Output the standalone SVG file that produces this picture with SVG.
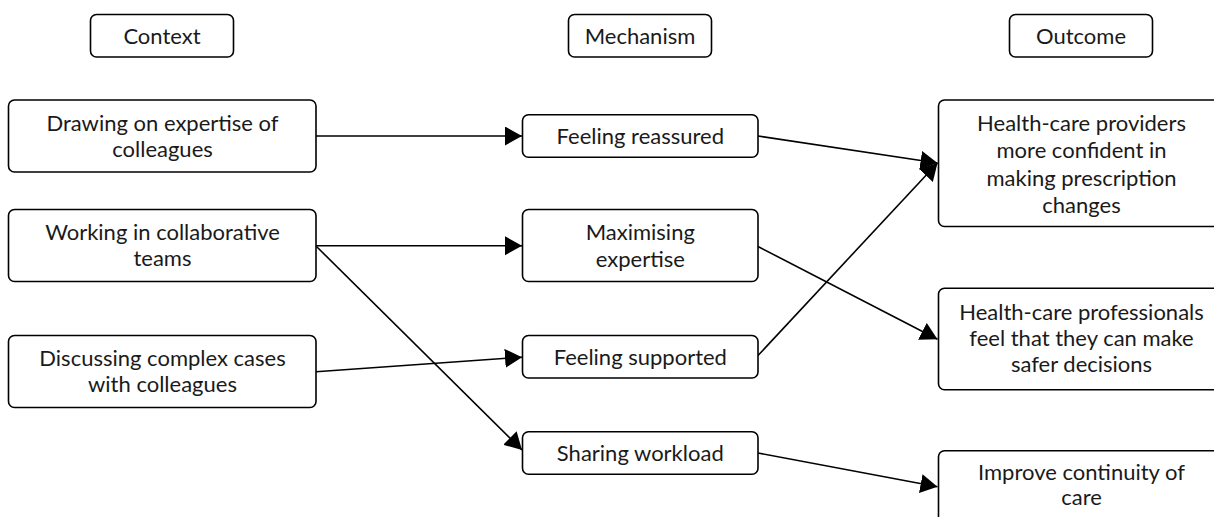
<svg xmlns="http://www.w3.org/2000/svg" width="1214" height="517" viewBox="0 0 1214 517">
  <style>
    .box { fill: #ffffff; stroke: #000000; stroke-width: 1.6; }
    .lbl { font-family: Lato, "Liberation Sans", sans-serif; font-size: 22px; fill: #1a1a1a; text-anchor: middle; }
    .edge { fill: none; stroke: #000000; stroke-width: 1.6; marker-end: url(#arrow); }
  </style>
  <defs>
    <marker id="arrow" markerUnits="userSpaceOnUse" markerWidth="18" markerHeight="20" refX="17" refY="9.5" orient="auto">
      <path d="M0,0 L17,9.5 L0,19 Z" fill="#000000"/>
    </marker>
  </defs>
  <rect width="1214" height="517" fill="#ffffff"/>

  <!-- column headers -->
  <g id="hdr-context">
    <rect class="box" x="90.5" y="14.5" width="143" height="42.5" rx="6"/>
    <text class="lbl" x="162" y="44">Context</text>
  </g>
  <g id="hdr-mechanism">
    <rect class="box" x="568.5" y="14.5" width="143" height="42.5" rx="6"/>
    <text class="lbl" x="640" y="44">Mechanism</text>
  </g>
  <g id="hdr-outcome">
    <rect class="box" x="1009.5" y="14.5" width="143" height="42.5" rx="6"/>
    <text class="lbl" x="1081" y="44">Outcome</text>
  </g>

  <!-- connectors -->
  <g id="connectors">
    <line class="edge" x1="316" y1="136" x2="522" y2="136"/>
    <line class="edge" x1="758" y1="136" x2="937.5" y2="163"/>
    <line class="edge" x1="316" y1="245.7" x2="522" y2="245.7"/>
    <line class="edge" x1="316" y1="246" x2="522" y2="450"/>
    <line class="edge" x1="316" y1="371.7" x2="522" y2="357.2"/>
    <line class="edge" x1="758" y1="246.5" x2="937.5" y2="339.2"/>
    <line class="edge" x1="758" y1="355.5" x2="937.5" y2="163"/>
    <line class="edge" x1="758" y1="453" x2="937.5" y2="486.7"/>
  </g>

  <!-- context nodes -->
  <g id="ctx-drawing">
    <rect class="box" x="8.5" y="100" width="307.5" height="72" rx="6"/>
    <text class="lbl" x="162.5" y="131">Drawing on expertise of</text>
    <text class="lbl" x="162.5" y="157">colleagues</text>
  </g>
  <g id="ctx-working">
    <rect class="box" x="8.5" y="209.5" width="307.5" height="72" rx="6"/>
    <text class="lbl" x="162.5" y="240">Working in collaborative</text>
    <text class="lbl" x="162.5" y="266">teams</text>
  </g>
  <g id="ctx-discussing">
    <rect class="box" x="8.5" y="335.5" width="307.5" height="72" rx="6"/>
    <text class="lbl" x="162.5" y="366">Discussing complex cases</text>
    <text class="lbl" x="162.5" y="392">with colleagues</text>
  </g>

  <!-- mechanism nodes -->
  <g id="mech-reassured">
    <rect class="box" x="522.5" y="114.8" width="235.5" height="42.5" rx="6"/>
    <text class="lbl" x="640.3" y="143.8">Feeling reassured</text>
  </g>
  <g id="mech-expertise">
    <rect class="box" x="522.5" y="209.5" width="235.5" height="72" rx="6"/>
    <text class="lbl" x="640.3" y="240">Maximising</text>
    <text class="lbl" x="640.3" y="266.5">expertise</text>
  </g>
  <g id="mech-supported">
    <rect class="box" x="522.5" y="335.5" width="235.5" height="42.5" rx="6"/>
    <text class="lbl" x="640.3" y="364.5">Feeling supported</text>
  </g>
  <g id="mech-workload">
    <rect class="box" x="522.5" y="431.8" width="235.5" height="42.5" rx="6"/>
    <text class="lbl" x="640.3" y="460.8">Sharing workload</text>
  </g>

  <!-- outcome nodes -->
  <g id="out-confident">
    <rect class="box" x="938.5" y="100" width="287" height="126.5" rx="6"/>
    <text class="lbl" x="1081.5" y="130.5">Health-care providers</text>
    <text class="lbl" x="1081.5" y="158">more confident in</text>
    <text class="lbl" x="1081.5" y="185.5">making prescription</text>
    <text class="lbl" x="1081.5" y="212.5">changes</text>
  </g>
  <g id="out-safer">
    <rect class="box" x="938.5" y="288.3" width="287" height="101.4" rx="6"/>
    <text class="lbl" x="1081.5" y="320">Health-care professionals</text>
    <text class="lbl" x="1081.5" y="346">feel that they can make</text>
    <text class="lbl" x="1081.5" y="372">safer decisions</text>
  </g>
  <g id="out-continuity">
    <rect class="box" x="938.5" y="450.7" width="287" height="72" rx="6"/>
    <text class="lbl" x="1081.5" y="480">Improve continuity of</text>
    <text class="lbl" x="1081.5" y="504.5">care</text>
  </g>
</svg>
